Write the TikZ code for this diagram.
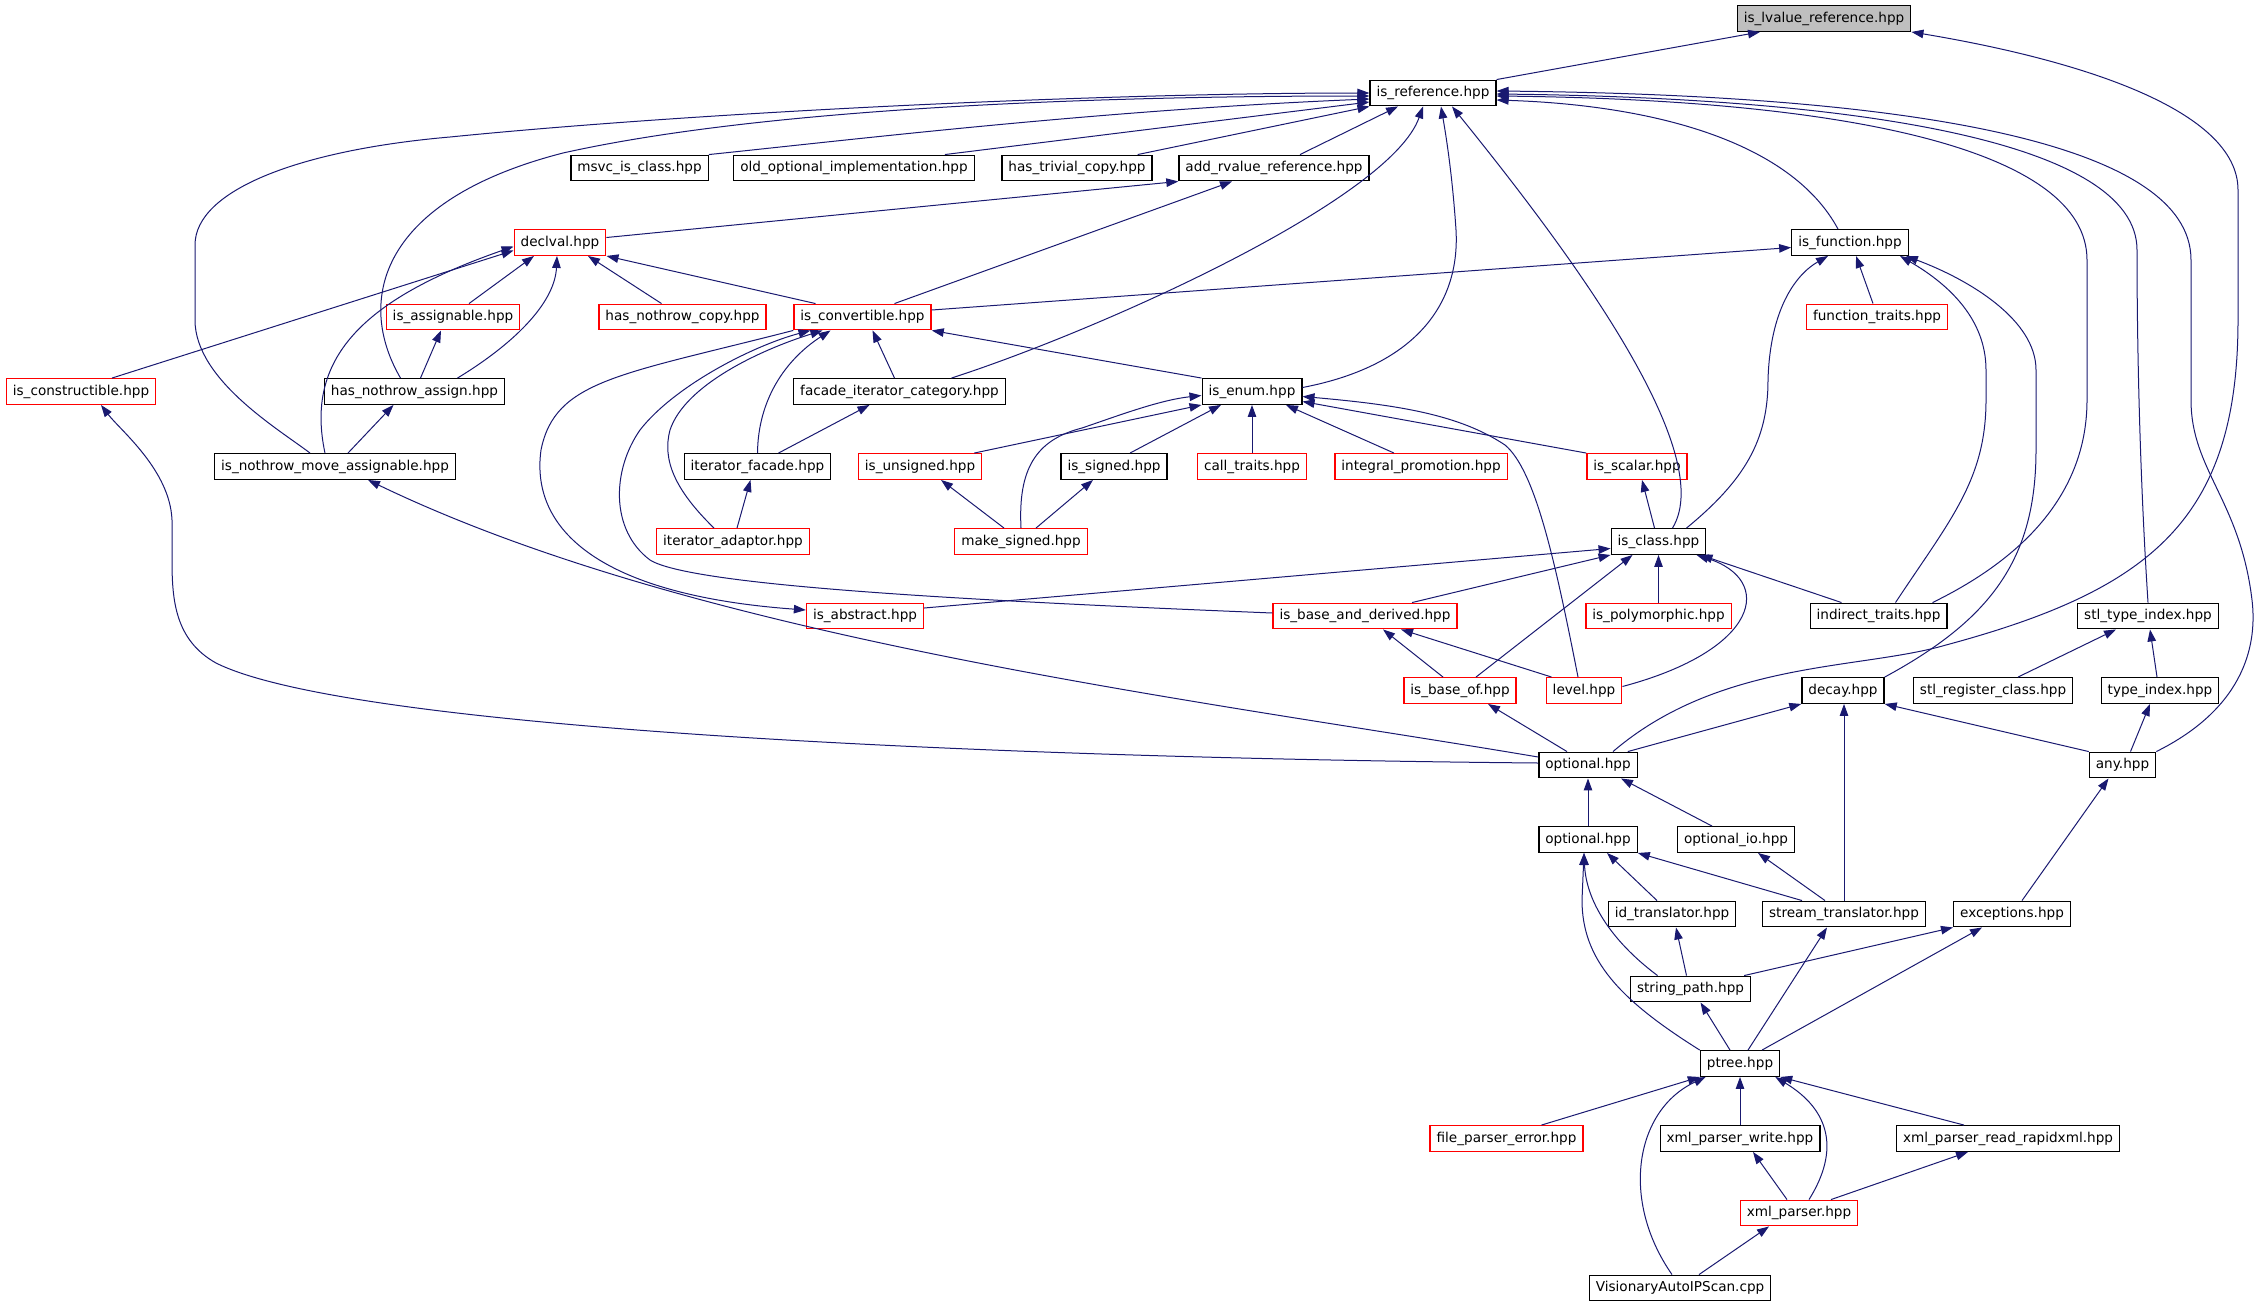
\documentclass[tikz,border=0pt]{standalone}
\usepackage{fontspec}
\setmainfont{DejaVu Sans}
\usetikzlibrary{arrows.meta}
\definecolor{edgeblue}{RGB}{25,25,112}
\definecolor{boxred}{RGB}{255,0,0}
\definecolor{rootgray}{RGB}{191,191,191}
\tikzset{
  >={Triangle[length=12pt,width=8.5pt]},
}
\tikzstyle{hdr}=[draw=black,line width=1.3pt,fill=white,inner xsep=6.5pt,inner ysep=0pt,minimum height=25.6pt,text height=10pt,text depth=3pt,font=\fontsize{13.6}{16}\selectfont]
\tikzstyle{hdrred}=[hdr,draw=boxred]
\tikzstyle{hdrroot}=[hdr,fill=rootgray]
\tikzstyle{inc}=[->,draw=edgeblue,line width=1pt]

\begin{document}
\begin{tikzpicture}[x=1pt,y=-1pt]
  \useasboundingbox (0,0) rectangle (2262,1307);
  % headers, row by row
  \node[hdrroot] (lvalue) at (1824,18.5) {is\_lvalue\_reference.hpp};
  \node[hdr] (isref) at (1433,93) {is\_reference.hpp};
  \node[hdr] (msvc) at (639.5,168) {msvc\_is\_class.hpp};
  \node[hdr] (oldopt) at (854,168) {old\_optional\_implementation.hpp};
  \node[hdr] (trivcopy) at (1077,168) {has\_trivial\_copy.hpp};
  \node[hdr] (addrv) at (1274,168) {add\_rvalue\_reference.hpp};
  \node[hdrred] (declval) at (560,242.5) {declval.hpp};
  \node[hdr] (isfunc) at (1850,242.5) {is\_function.hpp};
  \node[hdrred] (isassign) at (453,317) {is\_assignable.hpp};
  \node[hdrred] (nothrowcopy) at (682.5,317) {has\_nothrow\_copy.hpp};
  \node[hdrred] (isconv) at (862.5,317) {is\_convertible.hpp};
  \node[hdrred] (functraits) at (1877,317) {function\_traits.hpp};
  \node[hdrred] (isconstr) at (81,391.5) {is\_constructible.hpp};
  \node[hdr] (nothrowassign) at (414.5,391.5) {has\_nothrow\_assign.hpp};
  \node[hdr] (facadecat) at (899.5,391.5) {facade\_iterator\_category.hpp};
  \node[hdr] (isenum) at (1252,391.5) {is\_enum.hpp};
  \node[hdr] (nothrowmove) at (335,466.5) {is\_nothrow\_move\_assignable.hpp};
  \node[hdr] (iterfacade) at (757.5,466.5) {iterator\_facade.hpp};
  \node[hdrred] (isunsigned) at (920,466.5) {is\_unsigned.hpp};
  \node[hdr] (issigned) at (1114,466.5) {is\_signed.hpp};
  \node[hdrred] (calltraits) at (1252,466.5) {call\_traits.hpp};
  \node[hdrred] (intprom) at (1421,466.5) {integral\_promotion.hpp};
  \node[hdrred] (isscalar) at (1637,466.5) {is\_scalar.hpp};
  \node[hdrred] (iteradaptor) at (733,541.5) {iterator\_adaptor.hpp};
  \node[hdrred] (makesigned) at (1021,541.5) {make\_signed.hpp};
  \node[hdr] (isclass) at (1658.5,541.5) {is\_class.hpp};
  \node[hdrred] (isabstract) at (865,616) {is\_abstract.hpp};
  \node[hdrred] (basederived) at (1365,616) {is\_base\_and\_derived.hpp};
  \node[hdrred] (ispoly) at (1658.5,616) {is\_polymorphic.hpp};
  \node[hdr] (indirect) at (1878.5,616) {indirect\_traits.hpp};
  \node[hdr] (stltypeindex) at (2148,616) {stl\_type\_index.hpp};
  \node[hdrred] (isbaseof) at (1460,690.5) {is\_base\_of.hpp};
  \node[hdrred] (level) at (1584,690.5) {level.hpp};
  \node[hdr] (decay) at (1843,690.5) {decay.hpp};
  \node[hdr] (stlreg) at (1993,690.5) {stl\_register\_class.hpp};
  \node[hdr] (typeindex) at (2160,690.5) {type\_index.hpp};
  \node[hdr] (optional) at (1588,765) {optional.hpp};
  \node[hdr] (any) at (2122.5,765) {any.hpp};
  \node[hdr] (optional2) at (1588,839.5) {optional.hpp};
  \node[hdr] (optionalio) at (1736,839.5) {optional\_io.hpp};
  \node[hdr] (idtrans) at (1672,914) {id\_translator.hpp};
  \node[hdr] (streamtrans) at (1844,914) {stream\_translator.hpp};
  \node[hdr] (exceptions) at (2012,914) {exceptions.hpp};
  \node[hdr] (stringpath) at (1690.5,989) {string\_path.hpp};
  \node[hdr] (ptree) at (1740,1063.5) {ptree.hpp};
  \node[hdrred] (fpe) at (1506.5,1138.5) {file\_parser\_error.hpp};
  \node[hdr] (xmlwrite) at (1740,1138.5) {xml\_parser\_write.hpp};
  \node[hdr] (xmlrapid) at (2008,1138.5) {xml\_parser\_read\_rapidxml.hpp};
  \node[hdrred] (xmlparser) at (1799,1213) {xml\_parser.hpp};
  \node[hdr] (visionary) at (1680,1288) {VisionaryAutoIPScan.cpp};

  % is_lvalue_reference
  \draw[inc] (isref.north east) -- ([xshift=-64]lvalue.south);
  \draw[inc] ([xshift=25]optional.north) .. controls (1720,660) and (1860,670) .. (1946,645) .. controls (2150,590) and (2238,520) .. (2238,320) -- (2238,190) .. controls (2238,110) and (2080,60) .. (lvalue.south east);

  % is_reference
  \draw[inc] (msvc.north east) .. controls (850,140) and (1100,110) .. ([yshift=-6]isref.west);
  \draw[inc] ([xshift=-30]oldopt.north east) -- ([yshift=-9]isref.west);
  \draw[inc] ([xshift=-15]trivcopy.north east) -- (isref.south west);
  \draw[inc] ([xshift=26]addrv.north) -- ([xshift=-35]isref.south);
  \draw[inc] ([xshift=-14]nothrowassign.north) .. controls (355,300) and (380,200) .. (563,153) .. controls (800,100) and (1200,96) .. ([yshift=-3]isref.west);
  \draw[inc] ([xshift=-25]nothrowmove.north) .. controls (280,430) and (195,380) .. (195,320) -- (195,245) .. controls (195,190) and (300,150) .. (450,137) .. controls (700,112) and (1100,93) .. (isref.west);
  \draw[inc] ([xshift=52]facadecat.north) .. controls (1100,330) and (1390,200) .. ([xshift=-10]isref.south);
  \draw[inc] ([yshift=4]isenum.east) .. controls (1420,365) and (1460,300) .. (1456,230) .. controls (1452,170) and (1445,130) .. ([xshift=8]isref.south);
  \draw[inc] ([xshift=14]isclass.north) .. controls (1720,450) and (1560,240) .. ([xshift=19]isref.south);
  \draw[inc] ([xshift=-12]isfunc.north) .. controls (1790,140) and (1650,105) .. ([yshift=-7]isref.east);
  \draw[inc] ([xshift=54]indirect.north) .. controls (2040,550) and (2087,480) .. (2087,400) -- (2087,260) .. controls (2087,150) and (1850,100) .. ([yshift=-3]isref.east);
  \draw[inc] (stltypeindex.north) .. controls (2140,480) and (2137,350) .. (2137,250) .. controls (2137,140) and (1850,98) .. ([yshift=-1]isref.east);
  \draw[inc] (any.north east) .. controls (2240,710) and (2258,650) .. (2252,600) .. controls (2240,500) and (2191,470) .. (2191,400) -- (2191,260) .. controls (2191,140) and (1900,95) .. ([yshift=2]isref.east);

  % add_rvalue_reference
  \draw[inc] ([yshift=5]declval.east) -- (addrv.south west);
  \draw[inc] ([xshift=32]isconv.north) -- ([xshift=-42]addrv.south);

  % is_function
  \draw[inc] ([yshift=7]isconv.east) -- ([yshift=-5]isfunc.west);
  \draw[inc] ([xshift=28]isclass.north) .. controls (1745,480) and (1768,440) .. (1768,380) .. controls (1770,310) and (1795,275) .. ([xshift=-22]isfunc.south);
  \draw[inc] ([xshift=-4]functraits.north) -- ([xshift=6]isfunc.south);
  \draw[inc] ([xshift=17]indirect.north) .. controls (1950,520) and (1986,480) .. (1986,400) -- (1986,370) .. controls (1986,320) and (1950,285) .. ([xshift=50]isfunc.south);
  \draw[inc] (decay.north east) .. controls (1990,620) and (2036,560) .. (2036,450) -- (2036,370) .. controls (2036,320) and (1970,280) .. ([xshift=-3]isfunc.south east);

  % declval
  \draw[inc] ([xshift=16]isassign.north) -- ([xshift=-26]declval.south);
  \draw[inc] ([xshift=43]nothrowassign.north) .. controls (520,340) and (555,300) .. ([xshift=-3]declval.south);
  \draw[inc] ([xshift=-21]nothrowcopy.north) -- ([xshift=28]declval.south);
  \draw[inc] ([xshift=-47]isconv.north) -- (declval.south east);
  \draw[inc] ([xshift=31]isconstr.north) -- ([yshift=-8]declval.west);
  \draw[inc] ([xshift=-10]nothrowmove.north) .. controls (305,360) and (360,300) .. ([yshift=-4]declval.west);
  \draw[inc] ([xshift=6]nothrowassign.north) -- ([xshift=-12]isassign.south);
  \draw[inc] ([xshift=13]nothrowmove.north) -- ([xshift=-21]nothrowassign.south);

  % is_convertible
  \draw[inc] ([xshift=-5]facadecat.north) -- ([xshift=10]isconv.south);
  \draw[inc] (isenum.north west) -- (isconv.south east);
  \draw[inc] (iterfacade.north) .. controls (758,400) and (785,360) .. ([xshift=-32]isconv.south);
  \draw[inc] ([xshift=-19]iteradaptor.north) .. controls (675,490) and (662,460) .. (670,430) .. controls (685,385) and (760,350) .. ([xshift=-40]isconv.south);
  \draw[inc] ([yshift=3]basederived.west) .. controls (950,600) and (690,585) .. (650,560) .. controls (610,530) and (612,470) .. (640,430) .. controls (675,385) and (755,345) .. ([xshift=-52]isconv.south);
  \draw[inc] (isconv.south west) .. controls (620,375) and (555,380) .. (541,450) .. controls (530,530) and (600,595) .. ([yshift=6]isabstract.west);

  % optional.hpp
  \draw[inc] ([yshift=8]optional.west) .. controls (1200,700) and (700,640) .. ([xshift=33]nothrowmove.south);
  \draw[inc] ([yshift=2]optional.west) .. controls (1000,758) and (350,730) .. (216,663) .. controls (175,640) and (172,600) .. (172,560) -- (172,520) .. controls (170,470) and (120,430) .. ([xshift=20]isconstr.south);
  \draw[inc] ([xshift=-21]optional.north) -- ([xshift=28]isbaseof.south);
  \draw[inc] ([xshift=-10]optional.north east) -- (decay.south west);
  \draw[inc] (optional2) -- (optional);
  \draw[inc] ([xshift=-24]optionalio.north) -- ([xshift=33]optional.south);

  % is_enum
  \draw[inc] ([xshift=-8]isunsigned.north east) -- (isenum.south west);
  \draw[inc] (makesigned.north) .. controls (1018,470) and (1035,440) .. (1082,428) .. controls (1120,415) and (1160,400) .. ([yshift=-4]isenum.west);
  \draw[inc] ([xshift=16]issigned.north) -- ([xshift=-31]isenum.south);
  \draw[inc] (calltraits) -- (isenum);
  \draw[inc] ([xshift=-27]intprom.north) -- ([xshift=34]isenum.south);
  \draw[inc] (isscalar.north west) -- ([yshift=-10]isenum.east);
  \draw[inc] ([xshift=-6]level.north) .. controls (1555,560) and (1535,470) .. (1505,445) .. controls (1460,415) and (1400,405) .. ([yshift=-5]isenum.east);
  \draw[inc] ([xshift=-17]makesigned.north) -- ([xshift=21]isunsigned.south);
  \draw[inc] ([xshift=15]makesigned.north) -- ([xshift=-21]issigned.south);
  \draw[inc] ([xshift=4]iteradaptor.north) -- ([xshift=-7]iterfacade.south);
  \draw[inc] ([xshift=21]iterfacade.north) -- ([xshift=-30]facadecat.south);

  % is_class
  \draw[inc] ([xshift=-4]isclass.north) -- ([xshift=5]isscalar.south);
  \draw[inc] ([yshift=8]isabstract.east) -- ([yshift=-7]isclass.west);
  \draw[inc] ([xshift=47]basederived.north) -- (isclass.south west);
  \draw[inc] ([xshift=16]isbaseof.north) -- ([xshift=-26]isclass.south);
  \draw[inc] (ispoly) -- (isclass);
  \draw[inc] ([yshift=4]level.east) .. controls (1760,650) and (1775,580) .. ([xshift=38]isclass.south);
  \draw[inc] ([xshift=-37]indirect.north) -- ([xshift=-6]isclass.south east);
  \draw[inc] ([xshift=-17]isbaseof.north) -- ([xshift=18]basederived.south);
  \draw[inc] ([xshift=6]level.north west) -- ([xshift=36]basederived.south);

  % type index, decay, any
  \draw[inc] ([xshift=25]stlreg.north) -- ([xshift=-32]stltypeindex.south);
  \draw[inc] ([xshift=-3]typeindex.north) -- ([xshift=2]stltypeindex.south);
  \draw[inc] ([xshift=8]any.north) -- ([xshift=-10]typeindex.south);
  \draw[inc] (any.north west) -- (decay.south east);
  \draw[inc] (streamtrans.north) -- (streamtrans.north |- decay.south);
  \draw[inc] ([xshift=10]exceptions.north) -- ([xshift=-14]any.south);

  % property tree
  \draw[inc] (ptree.north west) .. controls (1620,1000) and (1582,960) .. (1582,900) -- ([xshift=-4]optional2.south);
  \draw[inc] ([xshift=-33]stringpath.north) .. controls (1610,940) and (1586,900) .. ([xshift=-4]optional2.south);
  \draw[inc] ([xshift=-15]idtrans.north) -- ([xshift=19]optional2.south);
  \draw[inc] ([xshift=-42]streamtrans.north) -- (optional2.south east);
  \draw[inc] ([xshift=-19]streamtrans.north) -- ([xshift=22]optionalio.south);
  \draw[inc] ([xshift=-4]stringpath.north) -- ([xshift=4]idtrans.south);
  \draw[inc] ([xshift=-7]stringpath.north east) -- (exceptions.south west);
  \draw[inc] ([xshift=22]ptree.north) -- ([xshift=-30]exceptions.south);
  \draw[inc] ([xshift=8]ptree.north) -- ([xshift=-17]streamtrans.south);
  \draw[inc] ([xshift=-10]ptree.north) -- ([xshift=10]stringpath.south);
  \draw[inc] ([xshift=35]fpe.north) -- (ptree.south west);
  \draw[inc] ([xshift=-8]visionary.north) .. controls (1620,1200) and (1635,1110) .. ([xshift=6]ptree.south west);
  \draw[inc] (xmlwrite) -- (ptree);
  \draw[inc] ([xshift=10]xmlparser.north) .. controls (1840,1150) and (1830,1110) .. ([xshift=-5]ptree.south east);
  \draw[inc] ([xshift=-44]xmlrapid.north) -- (ptree.south east);
  \draw[inc] ([xshift=-12]xmlparser.north) -- ([xshift=13]xmlwrite.south);
  \draw[inc] ([xshift=32]xmlparser.north) -- ([xshift=-40]xmlrapid.south);
  \draw[inc] ([xshift=19]visionary.north) -- ([xshift=-30]xmlparser.south);
\end{tikzpicture}
\end{document}
